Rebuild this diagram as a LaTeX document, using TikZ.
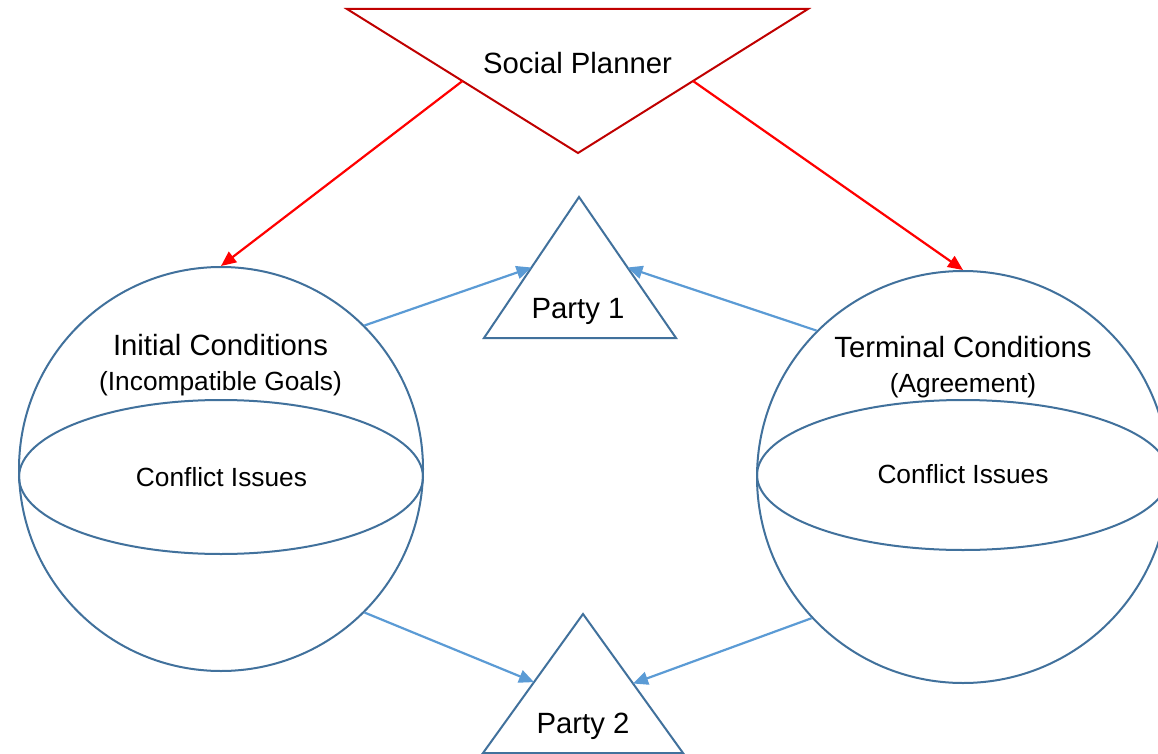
\documentclass[tikz,border=0pt]{standalone}
\usepackage{fontspec}
\setmainfont{Liberation Sans}
\usetikzlibrary{arrows.meta,calc}
\definecolor{shapeblue}{HTML}{41719C}
\definecolor{arrowblue}{HTML}{5B9BD5}
\definecolor{plannerred}{HTML}{C00000}
\definecolor{brightred}{HTML}{FF0000}
\begin{document}
\begin{tikzpicture}[x=1pt,y=-1pt,
  sphere/.style={circle, draw=shapeblue, line width=2pt, inner sep=0pt},
  outline/.style={draw=shapeblue, line width=2pt, line join=miter},
  bigtext/.style={font=\fontsize{29.3}{35}\selectfont, inner sep=0pt, anchor=base},
  smalltext/.style={font=\fontsize{26.3}{31}\selectfont, inner sep=0pt, anchor=base},
  redarrow/.style={draw=brightred, line width=2.2pt, -{Triangle[length=15pt,width=13pt]}},
  bluearrow/.style={draw=arrowblue, line width=2.2pt, -{Triangle[length=15pt,width=13pt]}}]
\useasboundingbox (0,0) rectangle (1158,754);
\clip (0,0) rectangle (1158,754);
\fill[white] (0,0) rectangle (1158,754);

% spheres
\node[sphere, minimum size=404pt] (lc) at (221,469) {};
\node[sphere, minimum size=412pt] (rc) at (963,477) {};
\draw[outline] (221,477) ellipse [x radius=202pt, y radius=77pt];
\draw[outline] (963,475) ellipse [x radius=206pt, y radius=75pt];

% social planner
\coordinate (sp1) at (347,9);
\coordinate (sp2) at (808,9);
\coordinate (sp3) at (578,153);
\draw[draw=plannerred, line width=2pt, line join=miter] (sp1) -- (sp2) -- (sp3) -- cycle;

% parties
\coordinate (p1t) at (579,197);
\coordinate (p1l) at (484,338);
\coordinate (p1r) at (676,338);
\draw[outline] (p1t) -- (p1r) -- (p1l) -- cycle;
\coordinate (p2t) at (583,614);
\coordinate (p2l) at (483,753);
\coordinate (p2r) at (683,753);
\draw[outline] (p2t) -- (p2r) -- (p2l) -- cycle;

% arrows
\draw[redarrow] ($(sp1)!0.5!(sp3)$) -- (lc.north);
\draw[redarrow] ($(sp2)!0.5!(sp3)$) -- (rc.north);
\draw[bluearrow] (lc.45) -- ($(p1t)!0.5!(p1l)$);
\draw[bluearrow] (rc.135) -- ($(p1t)!0.5!(p1r)$);
\draw[bluearrow] (lc.-45) -- ($(p2t)!0.49!(p2l)$);
\draw[bluearrow] (rc.-137) -- ($(p2t)!0.5!(p2r)$);

% texts
\node[bigtext] (tsp) at (577.5,74) {Social Planner};
\node[bigtext] (tic) at (220.5,355) {Initial Conditions};
\node[smalltext] (tig) at (220.5,390) {(Incompatible Goals)};
\node[smalltext] (tci1) at (221.5,486) {Conflict Issues};
\node[bigtext] (ttc) at (963,357) {Terminal Conditions};
\node[smalltext] (tag) at (963,392) {(Agreement)};
\node[smalltext] (tci2) at (963,483) {Conflict Issues};
\node[bigtext] (tp1) at (578,318) {Party 1};
\node[bigtext] (tp2) at (583,733) {Party 2};
\end{tikzpicture}
\end{document}
